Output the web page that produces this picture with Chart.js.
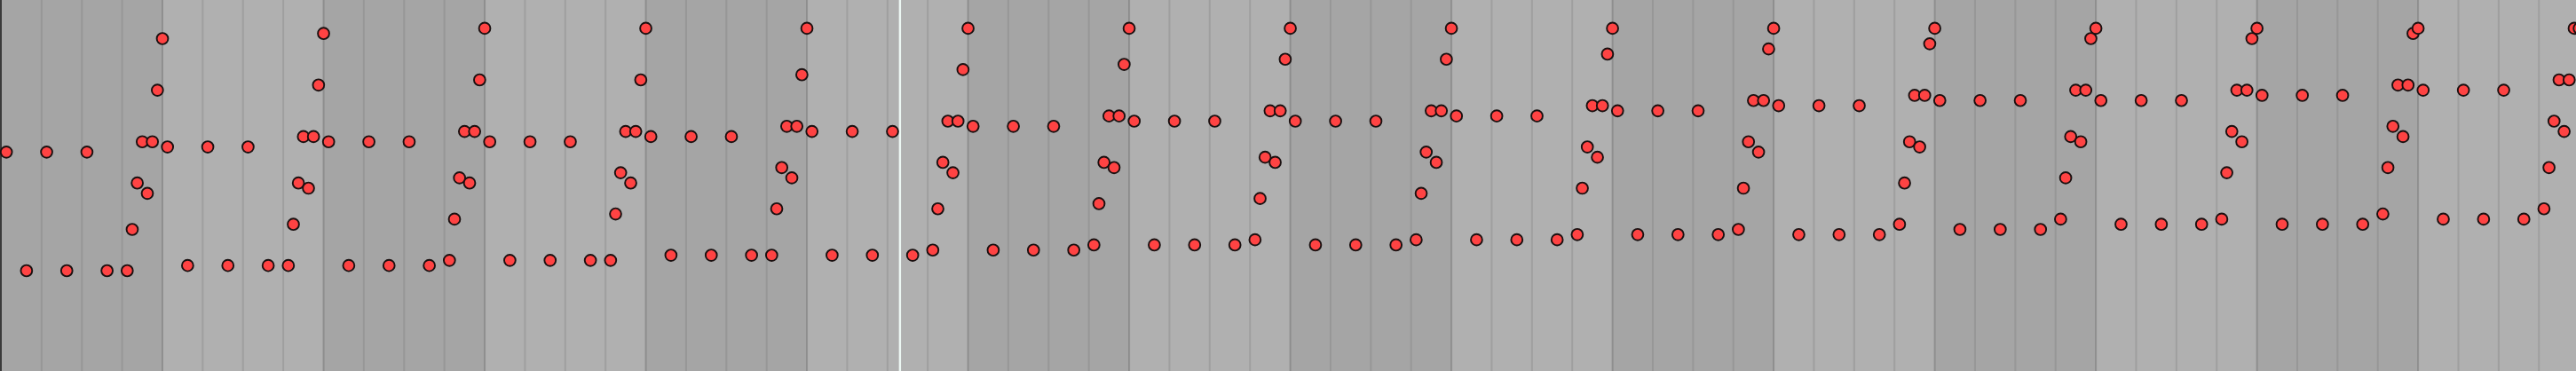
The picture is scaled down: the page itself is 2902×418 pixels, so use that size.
<!DOCTYPE html>
<html>
<head>
<meta charset="utf-8">
<script src="https://cdn.jsdelivr.net/npm/chart.js@4.4.1/dist/chart.umd.min.js"></script>
<style>
  html, body { margin: 0; padding: 0; background: #a6a6a6; overflow: hidden; }
  #wrap { width: 2902px; height: 418px; position: relative; }
</style>
</head>
<body>
<div id="wrap"><canvas id="roll"></canvas></div>
<script>
const BARS          = 16;
const BEATS_PER_BAR = 4;

// pitches (midi numbers), one value per bar
const midNotes    = [59,60,61,61,62,63,64,65,65,66,67,68,69,69,70,71];
const lowNotes    = [36,37,37,38,39,39,40,41,41,42,43,43,44,45,45,46];
const pickupNotes = [36,37,38,38,39,40,41,42,42,43,44,45,46,46,47,48];
const run1Notes   = [44,45,46,47,48,48,49,50,51,52,52,53,54,55,56,56];
const run2Notes   = [53,53,54,55,56,57,57,58,59,60,61,61,62,63,64,65];
const upperNotes  = [61,62,63,63,64,65,66,67,67,68,69,70,71,71,72,73];
const dipNotes    = [51,52,53,53,54,55,56,57,57,58,59,60,61,61,62,63];
const highNotes   = [71,72,73,73,74,75,76,77,77,78,79,80,81,81,82,83];
const topNotes    = [81,82,83,83,83,83,83,83,83,83,83,83,83,83,83,83];

// where in the bar (in beats) each voice plays
const midOnsets    = [0.125, 1.125, 2.125];
const lowOnsets    = [0.625, 1.625, 2.625];
const pickupOnsets = [3.125];
const run1Onsets   = [3.25];
const run2Onsets   = [3.375];
const upperOnsets  = [3.5, 3.75];
const dipOnsets    = [3.625];
const highOnsets   = [3.875];
const topOnsets    = [4.0];

const playheadBeat = 22.31;

const voices = [
  [midNotes,    midOnsets],
  [lowNotes,    lowOnsets],
  [pickupNotes, pickupOnsets],
  [run1Notes,   run1Onsets],
  [run2Notes,   run2Onsets],
  [upperNotes,  upperOnsets],
  [dipNotes,    dipOnsets],
  [highNotes,   highOnsets],
  [topNotes,    topOnsets]
];

const notes = [];
voices.forEach(([pitches, onsets]) => {
  pitches.forEach((p, bar) => {
    onsets.forEach(o => notes.push({ x: bar * BEATS_PER_BAR + o, y: p }));
  });
});

const gridPlugin = {
  id: 'grid',
  beforeDraw(chart) {
    const { ctx, scales: { x }, chartArea: a } = chart;
    ctx.save();
    for (let b = 0; b < BARS; b++) {
      const x0 = x.getPixelForValue(b * BEATS_PER_BAR);
      const x1 = x.getPixelForValue((b + 1) * BEATS_PER_BAR);
      ctx.fillStyle = b % 2 ? '#b0b0b0' : '#a5a5a5';
      ctx.fillRect(x0, a.top, x1 - x0, a.bottom - a.top);
    }
    for (let beat = 1; beat < BARS * BEATS_PER_BAR; beat++) {
      const px = x.getPixelForValue(beat);
      ctx.fillStyle = beat % BEATS_PER_BAR ? 'rgba(120,120,120,0.3)' : 'rgba(110,110,110,0.45)';
      ctx.fillRect(px - 1, a.top, 2, a.bottom - a.top);
    }
    ctx.fillStyle = '#3a3a3a';
    ctx.fillRect(0, a.top, 2, a.bottom - a.top);
    ctx.restore();
  },
  beforeDatasetsDraw(chart) {
    const { ctx, scales: { x }, chartArea: a } = chart;
    const px = x.getPixelForValue(playheadBeat);
    ctx.save();
    ctx.fillStyle = '#ecf7f3';
    ctx.fillRect(px - 1.2, a.top, 2.4, a.bottom - a.top);
    ctx.restore();
  }
};

new Chart(document.getElementById('roll').getContext('2d'), {
  type: 'scatter',
  data: {
    datasets: [{
      data: notes,
      pointRadius: 6.4,
      pointBorderWidth: 1.9,
      backgroundColor: '#ff4343',
      borderColor: '#1a1010',
      clip: false
    }]
  },
  options: {
    responsive: true,
    maintainAspectRatio: false,
    animation: false,
    events: [],
    layout: { padding: 0, autoPadding: false },
    plugins: { legend: { display: false }, tooltip: { enabled: false } },
    scales: {
      x: { type: 'linear', display: false, min: -0.033, max: 63.92 },
      y: { type: 'linear', display: false, min: 16.55, max: 88.49 }
    }
  },
  plugins: [gridPlugin]
});
</script>
</body>
</html>
